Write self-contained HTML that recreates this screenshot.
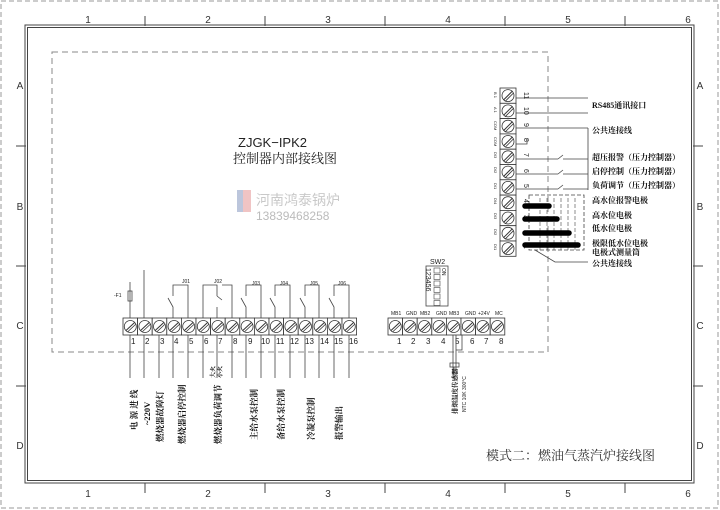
<!DOCTYPE html>
<html><head><meta charset="utf-8"><style>
body{margin:0;background:#fff}
svg{display:block;font-family:"Liberation Sans","Noto Sans CJK SC",sans-serif}
.cn{font-family:"Liberation Serif","Noto Serif CJK SC",serif}
</style></head><body>
<svg width="720" height="510" viewBox="0 0 720 510" xmlns="http://www.w3.org/2000/svg">
<defs>
<g id="cell"><rect x="0" y="0" width="14.6" height="17" fill="#fff" stroke="#333" stroke-width="0.8"/><circle cx="7.3" cy="8.5" r="6" fill="none" stroke="#333" stroke-width="0.8"/><line x1="3" y1="12.5" x2="11.6" y2="4.5" stroke="#333" stroke-width="1"/><line x1="4.5" y1="14" x2="13" y2="6" stroke="#333" stroke-width="0.8"/></g>
<g id="vcell"><rect x="0" y="0" width="16" height="15.3" fill="#fff" stroke="#333" stroke-width="0.8"/><circle cx="8" cy="7.6" r="6" fill="none" stroke="#333" stroke-width="0.8"/><line x1="3.5" y1="12" x2="12.5" y2="3" stroke="#333" stroke-width="1"/><line x1="5" y1="13.5" x2="13.5" y2="5" stroke="#333" stroke-width="0.8"/></g>
</defs>
<rect x="1" y="1" width="717" height="507" fill="none" stroke="#999" stroke-width="1" stroke-dasharray="5,3"/>
<rect x="25" y="25" width="669" height="458" fill="none" stroke="#444" stroke-width="1"/>
<rect x="27.5" y="27.5" width="664" height="453" fill="none" stroke="#444" stroke-width="1"/>
<g stroke="#444" stroke-width="1">
<line x1="145" y1="16" x2="145" y2="26"/><line x1="265" y1="16" x2="265" y2="26"/><line x1="385" y1="16" x2="385" y2="26"/><line x1="505" y1="16" x2="505" y2="26"/><line x1="625" y1="16" x2="625" y2="26"/>
<line x1="145" y1="483" x2="145" y2="493"/><line x1="265" y1="483" x2="265" y2="493"/><line x1="385" y1="483" x2="385" y2="493"/><line x1="505" y1="483" x2="505" y2="493"/><line x1="625" y1="483" x2="625" y2="493"/>
<line x1="16" y1="146" x2="26" y2="146"/><line x1="16" y1="266" x2="26" y2="266"/><line x1="16" y1="386" x2="26" y2="386"/>
<line x1="693" y1="146" x2="703" y2="146"/><line x1="693" y1="266" x2="703" y2="266"/><line x1="693" y1="386" x2="703" y2="386"/>
</g>
<g font-size="10" fill="#333" text-anchor="middle">
<text x="88" y="23">1</text><text x="208" y="23">2</text><text x="328" y="23">3</text><text x="448" y="23">4</text><text x="568" y="23">5</text><text x="688" y="23">6</text>
<text x="88" y="497">1</text><text x="208" y="497">2</text><text x="328" y="497">3</text><text x="448" y="497">4</text><text x="568" y="497">5</text><text x="688" y="497">6</text>
<text x="20" y="89">A</text><text x="20" y="210">B</text><text x="20" y="329">C</text><text x="20" y="449">D</text>
<text x="700" y="89">A</text><text x="700" y="210">B</text><text x="700" y="329">C</text><text x="700" y="449">D</text>
</g>
<rect x="52" y="52" width="496" height="300" fill="none" stroke="#888" stroke-width="1" stroke-dasharray="6,4"/>
<text x="238" y="147" font-size="13" fill="#222">ZJGK−IPK2</text>
<text x="233" y="163" font-size="13" fill="#222" class="cn">控制器内部接线图</text>
<rect x="237" y="190" width="6" height="22" fill="#bcc6dc"/><rect x="243" y="190" width="8" height="22" fill="#f0c4c4"/>
<text x="256" y="205" font-size="14" fill="#c9c9c9">河南鸿泰锅炉</text>
<text x="256" y="220" font-size="12" fill="#bbb">13839468258</text>
<g transform="translate(123,318)">
<use href="#cell" x="0"/><use href="#cell" x="14.6"/><use href="#cell" x="29.2"/><use href="#cell" x="43.8"/><use href="#cell" x="58.4"/><use href="#cell" x="73"/><use href="#cell" x="87.6"/><use href="#cell" x="102.2"/><use href="#cell" x="116.8"/><use href="#cell" x="131.4"/><use href="#cell" x="146"/><use href="#cell" x="160.6"/><use href="#cell" x="175.2"/><use href="#cell" x="189.8"/><use href="#cell" x="204.4"/><use href="#cell" x="219"/>
</g>
<g font-size="8" fill="#222">
<text x="131" y="344">1</text><text x="145" y="344">2</text><text x="160" y="344">3</text><text x="174" y="344">4</text><text x="189" y="344">5</text><text x="204" y="344">6</text><text x="218" y="344">7</text><text x="233" y="344">8</text><text x="248" y="344">9</text><text x="261" y="344">10</text><text x="276" y="344">11</text><text x="290" y="344">12</text><text x="305" y="344">13</text><text x="320" y="344">14</text><text x="334" y="344">15</text><text x="349" y="344">16</text>
</g>
<g stroke="#444" stroke-width="0.8" fill="none">
<path d="M130 335V378M144 335V378M159 335V378M173 335V378M188 335V378M203 335V378M217 335V378M232 335V378M246 335V378M261 335V378M275 335V378M290 335V378M305 335V378M319 335V378M334 335V378M349 335V378"/>
<path d="M130 318V282M144 318V270"/>
<rect x="128" y="291" width="4" height="10"/>
<path d="M173 318V307L168 298M173 296V285H188V318"/>
<path d="M203 318V285H217V296M217 307V318M217 296L222 300M232 318V285H222"/>
<path d="M246 318V307L241 298M246 296V285H261V318"/>
<path d="M275 318V307L270 298M275 296V285H290V318"/>
<path d="M305 318V307L300 298M305 296V285H319V318"/>
<path d="M334 318V307L329 298M334 296V285H349V318"/>
</g>
<g font-size="5" fill="#222"><text x="114" y="297">-F1</text><text x="182" y="283">J01</text><text x="214" y="283">J02</text><text x="252" y="285">J03</text><text x="280" y="285">J04</text><text x="310" y="285">J05</text><text x="338" y="285">J06</text></g>
<g font-size="8.5" fill="#111" class="cn" font-weight="bold">
<text transform="translate(137,430) rotate(-90)">电 源 进 线</text>
<text transform="translate(150,425) rotate(-90)">~220V</text>
<text transform="translate(163,442) rotate(-90)">燃烧器故障灯</text>
<text transform="translate(185,444) rotate(-90)">燃烧器启停控制</text>
<text transform="translate(221,444) rotate(-90)">燃烧器负荷调节</text>
<text font-size="6" transform="translate(215,378) rotate(-90)">大火</text>
<text font-size="6" transform="translate(222,378) rotate(-90)">小火</text>
<text transform="translate(257,440) rotate(-90)">主给水泵控制</text>
<text transform="translate(284,440) rotate(-90)">备给水泵控制</text>
<text transform="translate(314,440) rotate(-90)">冷凝泵控制</text>
<text transform="translate(342,440) rotate(-90)">报警输出</text>
</g>
<g transform="translate(388,318)">
<use href="#cell" x="0"/><use href="#cell" x="14.6"/><use href="#cell" x="29.2"/><use href="#cell" x="43.8"/><use href="#cell" x="58.4"/><use href="#cell" x="73"/><use href="#cell" x="87.6"/><use href="#cell" x="102.2"/>
</g>
<g font-size="5" fill="#222"><text x="391" y="315">MB1</text><text x="406" y="315">GND</text><text x="420" y="315">MB2</text><text x="436" y="315">GND</text><text x="449" y="315">MB3</text><text x="465" y="315">GND</text><text x="478" y="315">+24V</text><text x="495" y="315">MC</text></g>
<g font-size="8" fill="#222"><text x="397" y="344">1</text><text x="411" y="344">2</text><text x="426" y="344">3</text><text x="441" y="344">4</text><text x="455" y="344">5</text><text x="470" y="344">6</text><text x="484" y="344">7</text><text x="499" y="344">8</text></g>
<g stroke="#444" stroke-width="0.8" fill="none"><path d="M453 335V375M456 335V375M456 350H462V335"/><rect x="450" y="363" width="9" height="4"/><path d="M454 367V378"/></g>
<text font-size="6.5" fill="#111" font-weight="bold" class="cn" transform="translate(457,414) rotate(-90)">排烟温度传感器</text>
<text font-size="5" fill="#222" transform="translate(466,412) rotate(-90)">NTC 10K  300°C</text>
<text x="430" y="264" font-size="7" fill="#222">SW2</text>
<rect x="426" y="266" width="22" height="40" fill="none" stroke="#444" stroke-width="0.8"/>
<g fill="none" stroke="#444" stroke-width="0.6"><rect x="434" y="268" width="6" height="5"/><rect x="434" y="274.5" width="6" height="5"/><rect x="434" y="281" width="6" height="5"/><rect x="434" y="287.5" width="6" height="5"/><rect x="434" y="294" width="6" height="5"/><rect x="434" y="300.5" width="6" height="5"/></g>
<text font-size="7" fill="#222" transform="translate(426,268) rotate(90)">123456</text>
<text font-size="5" fill="#222" transform="translate(442,268) rotate(90)">ON</text>
<g transform="translate(500,88)">
<use href="#vcell" y="0"/><use href="#vcell" y="15.3"/><use href="#vcell" y="30.6"/><use href="#vcell" y="45.9"/><use href="#vcell" y="61.2"/><use href="#vcell" y="76.5"/><use href="#vcell" y="91.8"/><use href="#vcell" y="107.1"/><use href="#vcell" y="122.4"/><use href="#vcell" y="137.7"/><use href="#vcell" y="153"/>
</g>
<g font-size="7" fill="#222">
<text transform="translate(524,92) rotate(90)">11</text><text transform="translate(524,107) rotate(90)">10</text><text transform="translate(524,123) rotate(90)">9</text><text transform="translate(524,138) rotate(90)">8</text><text transform="translate(524,153) rotate(90)">7</text><text transform="translate(524,169) rotate(90)">6</text><text transform="translate(524,184) rotate(90)">5</text><text transform="translate(524,199) rotate(90)">4</text><text transform="translate(524,215) rotate(90)">3</text><text transform="translate(524,230) rotate(90)">2</text><text transform="translate(524,245) rotate(90)">1</text>
</g>
<g font-size="4" fill="#222">
<text transform="translate(494,92) rotate(90)">B 1</text><text transform="translate(494,107) rotate(90)">A 1</text><text transform="translate(494,121) rotate(90)">COM</text><text transform="translate(494,137) rotate(90)">COM</text><text transform="translate(494,152) rotate(90)">DI3</text><text transform="translate(494,167) rotate(90)">DI2</text><text transform="translate(494,183) rotate(90)">DI1</text><text transform="translate(494,198) rotate(90)">DI4</text><text transform="translate(494,213) rotate(90)">DI3</text><text transform="translate(494,229) rotate(90)">DI2</text><text transform="translate(494,244) rotate(90)">DI1</text>
</g>
<g stroke="#444" stroke-width="0.8" fill="none">
<path d="M516 98H588M516 113H588M516 128H588"/>
<path d="M516 144H527V138M516 159H558M563 159H588M516 174H558M563 174H588M516 189H558M563 189H588M558 159L563 155M558 174L563 170M558 189L563 185"/>
<path d="M588 128V190"/>
<rect x="529" y="195" width="55" height="55" stroke-dasharray="4,2"/>
<path d="M540 198V250M547 198V250M554 198V250M561 198V250M568 198V250M575 198V250" stroke-dasharray="4,2" stroke-width="0.6"/>
<path d="M535 250L555 262H588"/>
</g>
<g stroke="#000" stroke-width="5.5" stroke-linecap="round"><line x1="525" y1="206" x2="549" y2="206"/><line x1="525" y1="219" x2="557" y2="219"/><line x1="525" y1="233" x2="569" y2="233"/><line x1="525" y1="245" x2="578" y2="245"/></g>
<g font-size="8" fill="#111" class="cn" font-weight="bold">
<text x="592" y="108">RS485通讯接口</text>
<text x="592" y="133">公共连接线</text>
<text x="592" y="160">超压报警（压力控制器）</text>
<text x="592" y="174">启停控制（压力控制器）</text>
<text x="592" y="188">负荷调节（压力控制器）</text>
<text x="592" y="203">高水位报警电极</text>
<text x="592" y="218">高水位电极</text>
<text x="592" y="231">低水位电极</text>
<text x="592" y="246">极限低水位电极</text>
<text x="592" y="255">电极式测量筒</text>
<text x="592" y="266">公共连接线</text>
</g>
<text x="486" y="460" font-size="13" fill="#333" class="cn">模式二：燃油气蒸汽炉接线图</text>
</svg>
</body></html>
